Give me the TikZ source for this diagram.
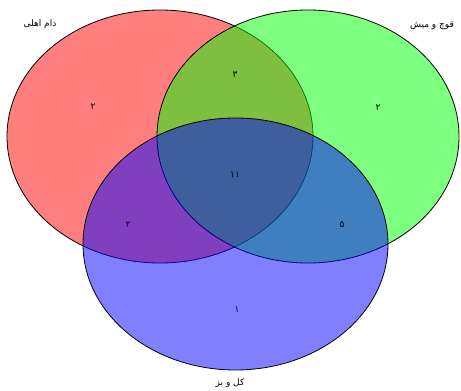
\documentclass[tikz,border=0pt]{standalone}
\usepackage{fontspec}
\usetikzlibrary{shapes.geometric}
\newfontfamily\arabicfont[Script=Arabic]{DejaVu Sans}
\TeXXeTstate=1

\begin{document}
\begin{tikzpicture}[x=1pt, y=-1pt, set/.style={ellipse, draw=black, line width=0.8pt, fill opacity=0.5, inner sep=0pt}, every node/.style={font=\arabicfont\fontsize{9}{10}\selectfont}]
  \useasboundingbox (0,0) rectangle (461,391);
  \node[set, fill=red, minimum width=306pt, minimum height=253pt] (dam) at (160,136.5) {};
  \node[set, fill=green, minimum width=302pt, minimum height=253pt] (quch) at (308,136.5) {};
  \node[set, fill=blue, minimum width=305pt, minimum height=252pt] (kal) at (235.5,244) {};
  \node (damlabel) at (40,24) {\beginR دام اهلی\endR};
  \node (quchlabel) at (432,26) {\beginR قوچ و میش\endR};
  \node (kallabel) at (230,383) {\beginR کل و بز\endR};
  \node (n1) at (93,107) {۲};
  \node (n2) at (235,75) {۳};
  \node (n3) at (378,108) {۲};
  \node (n4) at (235,175) {۱۱};
  \node (n5) at (128,225) {۲};
  \node (n6) at (342,225) {۵};
  \node (n7) at (237,310) {۱};
\end{tikzpicture}
\end{document}
